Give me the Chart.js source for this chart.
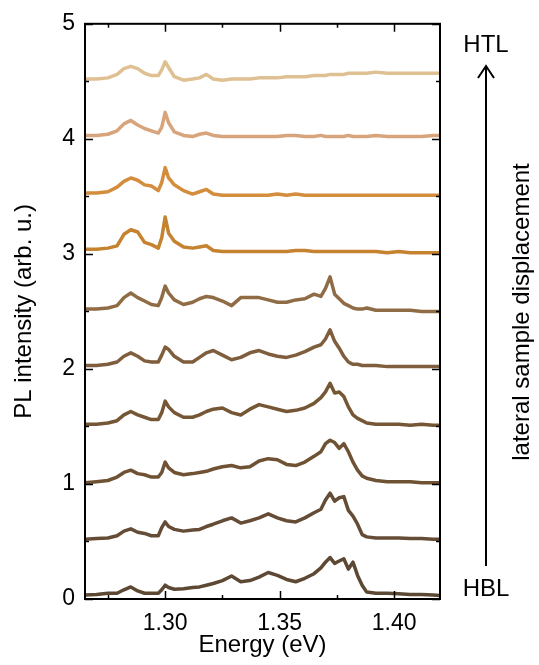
<!DOCTYPE html>
<html>
<head>
<meta charset="utf-8">
<script src="https://cdn.jsdelivr.net/npm/chart.js@4.4.1/dist/chart.umd.min.js"></script>
<style>
  html, body { margin: 0; padding: 0; background: #fff; }
  #wrap { width: 539px; height: 665px; }
</style>
</head>
<body>
<div id="wrap"><canvas id="pl"></canvas></div>
<script>
// photon energy grid (eV)
var energy = [1.265, 1.270, 1.275, 1.279, 1.282, 1.285, 1.288, 1.291, 1.294, 1.297,
  1.2985, 1.300, 1.3015, 1.304, 1.308, 1.312, 1.315, 1.318, 1.321, 1.325,
  1.329, 1.333, 1.337, 1.341, 1.345, 1.349, 1.353, 1.357, 1.361, 1.365,
  1.368, 1.370, 1.372, 1.374, 1.376, 1.378, 1.380, 1.382, 1.384, 1.386,
  1.388, 1.392, 1.397, 1.402, 1.407, 1.412, 1.417, 1.420];

// spectra, bottom (HBL) to top (HTL), already offset
var s00 = [0.035, 0.04, 0.05, 0.05, 0.08, 0.105, 0.07, 0.05, 0.05, 0.05,
  0.08, 0.12, 0.10, 0.085, 0.09, 0.10, 0.105, 0.12, 0.135, 0.16,
  0.20, 0.15, 0.16, 0.19, 0.23, 0.205, 0.17, 0.15, 0.18, 0.22,
  0.27, 0.32, 0.36, 0.31, 0.33, 0.35, 0.26, 0.32, 0.205, 0.12,
  0.06, 0.05, 0.05, 0.045, 0.04, 0.04, 0.035, 0.03];
var s05 = [0.52, 0.525, 0.53, 0.55, 0.59, 0.61, 0.58, 0.57, 0.55, 0.55,
  0.62, 0.67, 0.63, 0.605, 0.59, 0.60, 0.605, 0.63, 0.65, 0.68,
  0.705, 0.66, 0.68, 0.705, 0.74, 0.705, 0.68, 0.67, 0.705, 0.75,
  0.78, 0.86, 0.92, 0.85, 0.88, 0.89, 0.77, 0.72, 0.65, 0.56,
  0.54, 0.53, 0.53, 0.53, 0.525, 0.525, 0.52, 0.52];
var s10 = [1.01, 1.02, 1.03, 1.06, 1.10, 1.12, 1.09, 1.08, 1.06, 1.06,
  1.10, 1.19, 1.14, 1.10, 1.08, 1.09, 1.10, 1.11, 1.13, 1.15,
  1.16, 1.14, 1.15, 1.20, 1.22, 1.21, 1.17, 1.16, 1.19, 1.24,
  1.28, 1.35, 1.38, 1.36, 1.31, 1.35, 1.28, 1.19, 1.12, 1.07,
  1.05, 1.03, 1.02, 1.02, 1.02, 1.01, 1.01, 1.01];
var s15 = [1.52, 1.52, 1.53, 1.55, 1.60, 1.63, 1.60, 1.58, 1.56, 1.56,
  1.62, 1.72, 1.67, 1.62, 1.58, 1.58, 1.60, 1.63, 1.65, 1.66,
  1.62, 1.60, 1.65, 1.69, 1.67, 1.65, 1.63, 1.64, 1.66, 1.70,
  1.75, 1.80, 1.875, 1.79, 1.80, 1.76, 1.67, 1.60, 1.57, 1.55,
  1.53, 1.52, 1.52, 1.52, 1.51, 1.52, 1.51, 1.51];
var s20 = [2.03, 2.03, 2.04, 2.06, 2.11, 2.14, 2.11, 2.07, 2.06, 2.06,
  2.12, 2.19, 2.17, 2.11, 2.06, 2.06, 2.10, 2.14, 2.16, 2.12,
  2.08, 2.10, 2.14, 2.16, 2.13, 2.11, 2.10, 2.12, 2.15, 2.19,
  2.21, 2.26, 2.34, 2.24, 2.18, 2.11, 2.06, 2.04, 2.04, 2.03,
  2.03, 2.03, 2.02, 2.02, 2.02, 2.02, 2.02, 2.02];
var s25 = [2.52, 2.52, 2.53, 2.55, 2.62, 2.66, 2.62, 2.59, 2.56, 2.55,
  2.62, 2.72, 2.66, 2.60, 2.56, 2.58, 2.61, 2.63, 2.62, 2.59,
  2.55, 2.62, 2.62, 2.62, 2.60, 2.58, 2.58, 2.60, 2.61, 2.65,
  2.63, 2.70, 2.80, 2.65, 2.61, 2.57, 2.55, 2.53, 2.52, 2.52,
  2.53, 2.51, 2.51, 2.51, 2.51, 2.50, 2.50, 2.50];
var s30 = [3.04, 3.04, 3.05, 3.07, 3.17, 3.21, 3.19, 3.10, 3.08, 3.05,
  3.14, 3.32, 3.18, 3.11, 3.06, 3.05, 3.06, 3.07, 3.03, 3.02,
  3.02, 3.02, 3.02, 3.02, 3.02, 3.02, 3.02, 3.03, 3.03, 3.02,
  3.02, 3.02, 3.02, 3.02, 3.02, 3.02, 3.02, 3.02, 3.02, 3.02,
  3.02, 3.02, 3.01, 3.02, 3.01, 3.01, 3.01, 3.01];
var s35 = [3.53, 3.53, 3.54, 3.58, 3.63, 3.66, 3.64, 3.60, 3.59, 3.55,
  3.62, 3.75, 3.66, 3.60, 3.55, 3.52, 3.54, 3.56, 3.52, 3.51,
  3.51, 3.51, 3.51, 3.51, 3.51, 3.52, 3.51, 3.52, 3.51, 3.51,
  3.51, 3.51, 3.51, 3.51, 3.51, 3.51, 3.51, 3.51, 3.51, 3.51,
  3.51, 3.51, 3.51, 3.51, 3.51, 3.51, 3.51, 3.51];
var s40 = [4.03, 4.03, 4.04, 4.07, 4.13, 4.16, 4.12, 4.09, 4.07, 4.05,
  4.10, 4.23, 4.14, 4.06, 4.03, 4.02, 4.04, 4.05, 4.03, 4.02,
  4.02, 4.02, 4.02, 4.02, 4.02, 4.02, 4.03, 4.03, 4.02, 4.02,
  4.03, 4.02, 4.02, 4.02, 4.02, 4.02, 4.03, 4.02, 4.02, 4.02,
  4.02, 4.03, 4.02, 4.02, 4.02, 4.02, 4.03, 4.03];
var s45 = [4.52, 4.52, 4.53, 4.56, 4.61, 4.63, 4.61, 4.57, 4.55, 4.55,
  4.60, 4.67, 4.62, 4.54, 4.51, 4.52, 4.53, 4.56, 4.52, 4.51,
  4.52, 4.52, 4.52, 4.53, 4.53, 4.53, 4.54, 4.54, 4.54, 4.55,
  4.55, 4.55, 4.56, 4.56, 4.56, 4.56, 4.57, 4.57, 4.57, 4.57,
  4.57, 4.58, 4.57, 4.57, 4.57, 4.57, 4.57, 4.57];

var spectra = [s00, s05, s10, s15, s20, s25, s30, s35, s40, s45];
var colors = ["#5d4834", "#654c36", "#6f5233", "#765735", "#7e5e3c",
  "#8f6c45", "#c5822f", "#d38d3c", "#d8a47c", "#dfc092"];

var xTicks = [1.30, 1.35, 1.40];
var xMinor = [1.275, 1.325, 1.375];
var yTicks = [0, 1, 2, 3, 4, 5];
var yMinor = [0.5, 1.5, 2.5, 3.5, 4.5];

var FONT = "'Liberation Sans', Arial, sans-serif";

// inward ticks on all four sides + frame
var frameTicks = {
  id: "frameTicks",
  afterDraw: function (chart) {
    var ctx = chart.ctx;
    var a = chart.chartArea;
    var xs = chart.scales.x, ys = chart.scales.y;
    ctx.save();
    ctx.strokeStyle = "#000";
    ctx.lineWidth = 1.5;
    function xt(list, len) {
      list.forEach(function (v) {
        var px = Math.round(xs.getPixelForValue(v)) + 0.5;
        ctx.beginPath();
        ctx.moveTo(px, a.bottom); ctx.lineTo(px, a.bottom - len);
        ctx.moveTo(px, a.top); ctx.lineTo(px, a.top + len);
        ctx.stroke();
      });
    }
    function yt(list, len) {
      list.forEach(function (v) {
        var py = Math.round(ys.getPixelForValue(v)) + 0.5;
        ctx.beginPath();
        ctx.moveTo(a.left, py); ctx.lineTo(a.left + len, py);
        ctx.moveTo(a.right, py); ctx.lineTo(a.right - len, py);
        ctx.stroke();
      });
    }
    xt(xTicks, 8); xt(xMinor, 4);
    yt(yTicks, 8); yt(yMinor, 4);
    ctx.lineWidth = 2;
    ctx.strokeRect(a.left, a.top, a.right - a.left, a.bottom - a.top);
    ctx.restore();
  }
};

// HTL / HBL arrow on the right
var sideNote = {
  id: "sideNote",
  afterDraw: function (chart) {
    var ctx = chart.ctx;
    ctx.save();
    ctx.fillStyle = "#000";
    ctx.strokeStyle = "#000";
    ctx.font = "24px " + FONT;
    ctx.textAlign = "center";
    ctx.textBaseline = "middle";
    ctx.fillText("HTL", 486, 45);
    ctx.fillText("HBL", 486, 589);
    ctx.lineWidth = 2;
    ctx.beginPath();
    ctx.moveTo(486, 566); ctx.lineTo(486, 66);
    ctx.moveTo(478, 78); ctx.lineTo(486, 66); ctx.lineTo(494, 78);
    ctx.stroke();
    ctx.translate(522, 312);
    ctx.rotate(-Math.PI / 2);
    ctx.fillText("lateral sample displacement", 0, 0);
    ctx.restore();
  }
};

new Chart(document.getElementById("pl"), {
  type: "line",
  data: {
    datasets: spectra.map(function (s, k) {
      return {
        data: energy.map(function (e, i) { return { x: e, y: s[i] }; }),
        borderColor: colors[k],
        borderWidth: 3.5,
        borderJoinStyle: "round",
        pointRadius: 0,
        tension: 0,
        fill: false
      };
    })
  },
  options: {
    responsive: true,
    maintainAspectRatio: false,
    animation: false,
    layout: { padding: { left: 0, right: 99, top: 15, bottom: 0 } },
    plugins: { legend: { display: false }, tooltip: { enabled: false } },
    scales: {
      x: {
        type: "linear",
        min: 1.265,
        max: 1.42,
        afterBuildTicks: function (s) { s.ticks = xTicks.map(function (v) { return { value: v }; }); },
        afterFit: function (s) { s.height = 66; },
        grid: { display: false, drawTicks: false },
        border: { display: false },
        ticks: {
          padding: 11,
          color: "#000",
          font: { family: FONT, size: 23 },
          callback: function (v) { return v.toFixed(2); }
        },
        title: {
          display: true,
          text: "Energy (eV)",
          color: "#000",
          font: { family: FONT, size: 24 },
          padding: { top: 0, bottom: 5 }
        }
      },
      y: {
        min: 0,
        max: 5,
        afterBuildTicks: function (s) { s.ticks = yTicks.map(function (v) { return { value: v }; }); },
        afterFit: function (s) { s.width = 85; },
        grid: { display: false, drawTicks: false },
        border: { display: false },
        ticks: {
          padding: 10,
          color: "#000",
          font: { family: FONT, size: 23 },
          callback: function (v) { return String(v); }
        },
        title: {
          display: true,
          text: "PL intensity (arb. u.)",
          color: "#000",
          font: { family: FONT, size: 24 },
          padding: { top: 10, bottom: 0 }
        }
      }
    }
  },
  plugins: [frameTicks, sideNote]
});
</script>
</body>
</html>
